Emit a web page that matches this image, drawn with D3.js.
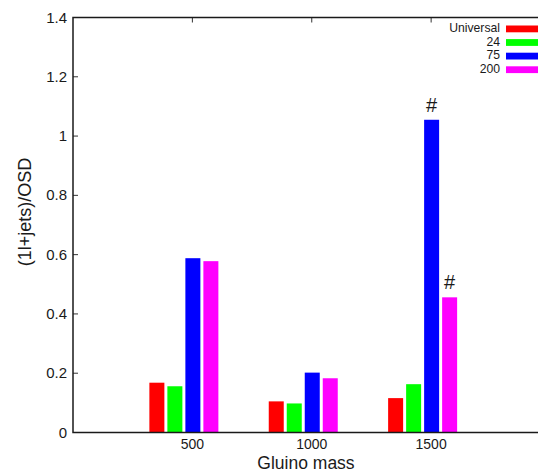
<!DOCTYPE html>
<html><head><meta charset="utf-8">
<script src="https://cdn.jsdelivr.net/npm/d3@7"></script>
<style>body{margin:0;background:#fff}svg{display:block}text{font-family:"Liberation Sans",Arial,sans-serif;fill:#1a1a1a}</style>
</head><body><div id="chart"></div>
<script>
const categories = [500, 1000, 1500];
const seriesNames = ["Universal", "24", "75", "200"];
const seriesColors = ["#ff0000", "#00ff00", "#0000ff", "#ff00ff"];
const valuesUniversal = [0.168, 0.105, 0.116];
const values24 = [0.156, 0.098, 0.163];
const values75 = [0.588, 0.202, 1.055];
const values200 = [0.578, 0.183, 0.456];
const yTicks = [0, 0.2, 0.4, 0.6, 0.8, 1, 1.2, 1.4];
const yTickLabels = ["0", "0.2", "0.4", "0.6", "0.8", "1", "1.2", "1.4"];
const annotations = [{cat: 1500, series: "75", text: "#"}, {cat: 1500, series: "200", text: "#"}];

const seriesValues = [valuesUniversal, values24, values75, values200];
const W = 538, H = 473;
const mLeft = 73, mTop = 17.5, mBottom = 432.5, mRight = 550.5;

const svg = d3.select("#chart").append("svg").attr("width", W).attr("height", H);
const x = d3.scaleLinear().domain([0, 2000]).range([mLeft, mRight]);
const y = d3.scaleLinear().domain([0, 1.4]).range([mBottom, mTop]);
const inner = d3.scaleBand().domain(seriesNames).range([-43, 26]).paddingInner(1/6).paddingOuter(0);

// y ticks (inward)
svg.append("g").selectAll("line").data(yTicks).join("line")
  .attr("x1", mLeft).attr("x2", mLeft + 5)
  .attr("y1", d => y(d)).attr("y2", d => y(d))
  .attr("stroke", "#333").attr("stroke-width", 1);
svg.append("g").selectAll("text").data(yTicks).join("text")
  .attr("x", mLeft - 6).attr("y", d => y(d) + 5)
  .attr("text-anchor", "end").attr("font-size", 15)
  .text((d, i) => yTickLabels[i]);

// top ticks
svg.append("g").selectAll("line").data(categories).join("line")
  .attr("x1", d => x(d)).attr("x2", d => x(d))
  .attr("y1", mTop).attr("y2", mTop + 5)
  .attr("stroke", "#333").attr("stroke-width", 1);
// bottom ticks
svg.append("g").selectAll("line").data(categories).join("line")
  .attr("x1", d => x(d)).attr("x2", d => x(d))
  .attr("y1", mBottom).attr("y2", mBottom - 5)
  .attr("stroke", "#333").attr("stroke-width", 1);

// x tick labels
svg.append("g").selectAll("text").data(categories).join("text")
  .attr("x", d => x(d)).attr("y", 449)
  .attr("text-anchor", "middle").attr("font-size", 14)
  .text(d => d);

// bars
const barData = [];
categories.forEach((c, ci) => seriesNames.forEach((s, si) => barData.push({cat: c, series: s, value: seriesValues[si][ci], color: seriesColors[si]})));
svg.append("g").selectAll("rect").data(barData).join("rect")
  .attr("x", d => x(d.cat) + inner(d.series))
  .attr("width", inner.bandwidth())
  .attr("y", d => y(d.value))
  .attr("height", d => y(0) - y(d.value))
  .attr("fill", d => d.color);

// annotations
svg.append("g").selectAll("text").data(annotations).join("text")
  .attr("x", d => x(d.cat) + inner(d.series) + inner.bandwidth() / 2)
  .attr("y", d => y(seriesValues[seriesNames.indexOf(d.series)][categories.indexOf(d.cat)]) - 8)
  .attr("text-anchor", "middle").attr("font-size", 20)
  .text(d => d.text);

// frame
svg.append("path")
  .attr("d", `M${mRight},${mTop}H${mLeft}V${mBottom}H${mRight}`)
  .attr("fill", "none").attr("stroke", "#1a1a1a").attr("stroke-width", 1.5);

// legend
const lg = svg.append("g");
seriesNames.forEach((s, i) => {
  const yy = 32 + i * 13.6;
  lg.append("text").attr("x", 500).attr("y", yy).attr("text-anchor", "end")
    .attr("font-size", 12.2).text(s);
  lg.append("rect").attr("x", 506).attr("y", yy - 6.5).attr("width", 40).attr("height", 6.8)
    .attr("fill", seriesColors[i]);
});

// axis titles
svg.append("text").attr("x", 306).attr("y", 469).attr("text-anchor", "middle")
  .attr("font-size", 17.5).text("Gluino mass");
svg.append("text").attr("transform", "translate(31,212) rotate(-90)")
  .attr("text-anchor", "middle").attr("font-size", 18).text("(1l+jets)/OSD");
</script></body></html>
